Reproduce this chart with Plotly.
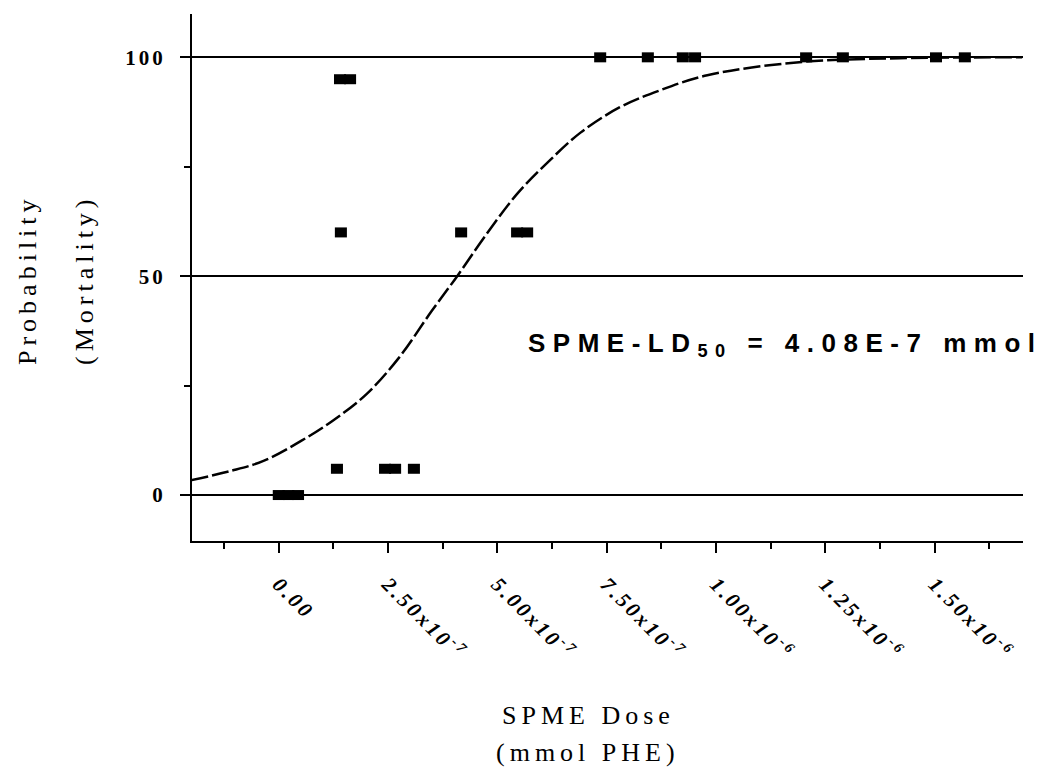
import plotly.graph_objects as go

# ---------------- data ----------------
dose_obs = [0.0, 2.2e-8, 4.4e-8,
            1.33e-7, 2.43e-7, 2.66e-7, 3.09e-7,
            1.42e-7, 4.17e-7, 5.45e-7, 5.68e-7,
            1.40e-7, 1.63e-7,
            7.35e-7, 8.44e-7, 9.24e-7, 9.52e-7, 1.206e-6, 1.29e-6, 1.503e-6, 1.569e-6]
mortality_obs = [0, 0, 0,
                 6, 6, 6, 6,
                 60, 60, 60, 60,
                 95, 95,
                 100, 100, 100, 100, 100, 100, 100, 100]

dose_fit = [-2.0e-7, -1.1e-7, -3.5e-8, 5.0e-8, 1.25e-7, 2.0e-7, 2.75e-7, 3.5e-7,
            4.08e-7, 4.7e-7, 5.45e-7, 6.15e-7, 6.9e-7, 7.8e-7, 8.7e-7, 9.8e-7,
            1.19e-6, 1.42e-6, 1.70e-6]
mortality_fit = [3.4, 5.5, 7.8, 12.3, 17.1, 23.0, 31.4, 42.1,
                 50.0, 58.9, 68.8, 76.0, 82.8, 88.6, 92.4, 95.9,
                 98.9, 99.8, 100.0]

x_tick_vals = [0, 2.5e-7, 5.0e-7, 7.5e-7, 1.0e-6, 1.25e-6, 1.5e-6]
x_tick_text = ["0.00", "2.50x10<sup>-7</sup>", "5.00x10<sup>-7</sup>", "7.50x10<sup>-7</sup>",
               "1.00x10<sup>-6</sup>", "1.25x10<sup>-6</sup>", "1.50x10<sup>-6</sup>"]
y_tick_vals = [0, 50, 100]
y_tick_text = ["0", "50", "100"]

annotation_text = "SPME-LD<sub>50</sub> = 4.08E-7 mmol"
annotation_pos = (1.158e-6, 34.5)   # data coords (x-centre, y)
x_title = ["SPME Dose", "(mmol PHE)"]
y_title = ["Probability", "(Mortality)"]

# ---------------- layout constants ----------------
W, H = 1047, 773
L, R, T, B = 192, 24, 14, 232
pw, ph = W - L - R, H - T - B


def px_to_paper(px, py):
    return (px - L) / pw, (H - B - py) / ph


def spaced(s, sp):
    return '<span style="letter-spacing:%spx">%s</span>' % (sp, s)


fig = go.Figure()

fig.add_trace(go.Scatter(
    x=dose_fit, y=mortality_fit, mode="lines",
    line=dict(color="black", width=2.5, dash="17px,4px", shape="spline", smoothing=1.0),
    hoverinfo="skip", showlegend=False))

fig.add_trace(go.Scatter(
    x=dose_obs, y=mortality_obs, mode="markers",
    marker=dict(symbol="line-ew", size=8.6, color="black",
                line=dict(color="black", width=10)),
    showlegend=False))

serif = "Liberation Serif, Times New Roman, serif"

fig.update_layout(
    width=W, height=H,
    margin=dict(l=L, r=R, t=T, b=B, pad=0),
    paper_bgcolor="white", plot_bgcolor="white",
    xaxis=dict(
        range=[-1.985e-7, 1.702e-6],
        showgrid=False, zeroline=False,
        showline=True, linecolor="black", linewidth=2,
        ticks="outside", ticklen=10, tickwidth=2, tickcolor="black",
        tickmode="array", tickvals=x_tick_vals,
        ticktext=[spaced(t, 3) for t in x_tick_text],
        tickangle=45,
        tickfont=dict(family=serif, size=21, color="black", weight="bold", style="italic"),
        ticklabelstandoff=11,
        minor=dict(tickmode="linear", tick0=-1.25e-7, dtick=2.5e-7, ticks="outside",
                   ticklen=6, tickwidth=2, tickcolor="black", showgrid=False),
    ),
    yaxis=dict(
        range=[-10.5, 109.9],
        showgrid=True, gridcolor="black", gridwidth=2,
        zeroline=False,
        showline=True, linecolor="black", linewidth=2,
        ticks="outside", ticklen=10, tickwidth=2, tickcolor="black",
        tickmode="array", tickvals=y_tick_vals,
        ticktext=[spaced(t, 3) for t in y_tick_text],
        tickfont=dict(family=serif, size=21, color="black", weight="bold"),
        ticklabelstandoff=10,
        minor=dict(tickmode="linear", tick0=25, dtick=50, ticks="outside",
                   ticklen=6, tickwidth=2, tickcolor="black", showgrid=False),
    ),
)

# annotation
fig.add_annotation(
    x=annotation_pos[0], y=annotation_pos[1], xref="x", yref="y",
    text=spaced(annotation_text, 7.5), showarrow=False,
    font=dict(family="Liberation Sans, Arial, sans-serif", size=26, color="black", weight="bold"),
    xanchor="center", yanchor="middle")

# axis titles
for txt, (px, py) in zip(x_title, [(588, 715), (588, 752)]):
    xp, yp = px_to_paper(px, py)
    fig.add_annotation(x=xp, y=yp, xref="paper", yref="paper", text=spaced(txt, 5),
                       showarrow=False, xanchor="center", yanchor="middle",
                       font=dict(family=serif, size=26, color="black"))

for txt, (px, py) in zip(y_title, [(27, 280), (84, 280)]):
    xp, yp = px_to_paper(px, py)
    fig.add_annotation(x=xp, y=yp, xref="paper", yref="paper", text=spaced(txt, 5),
                       showarrow=False, xanchor="center", yanchor="middle", textangle=-90,
                       font=dict(family=serif, size=26, color="black"))

fig.write_html("out.html")
